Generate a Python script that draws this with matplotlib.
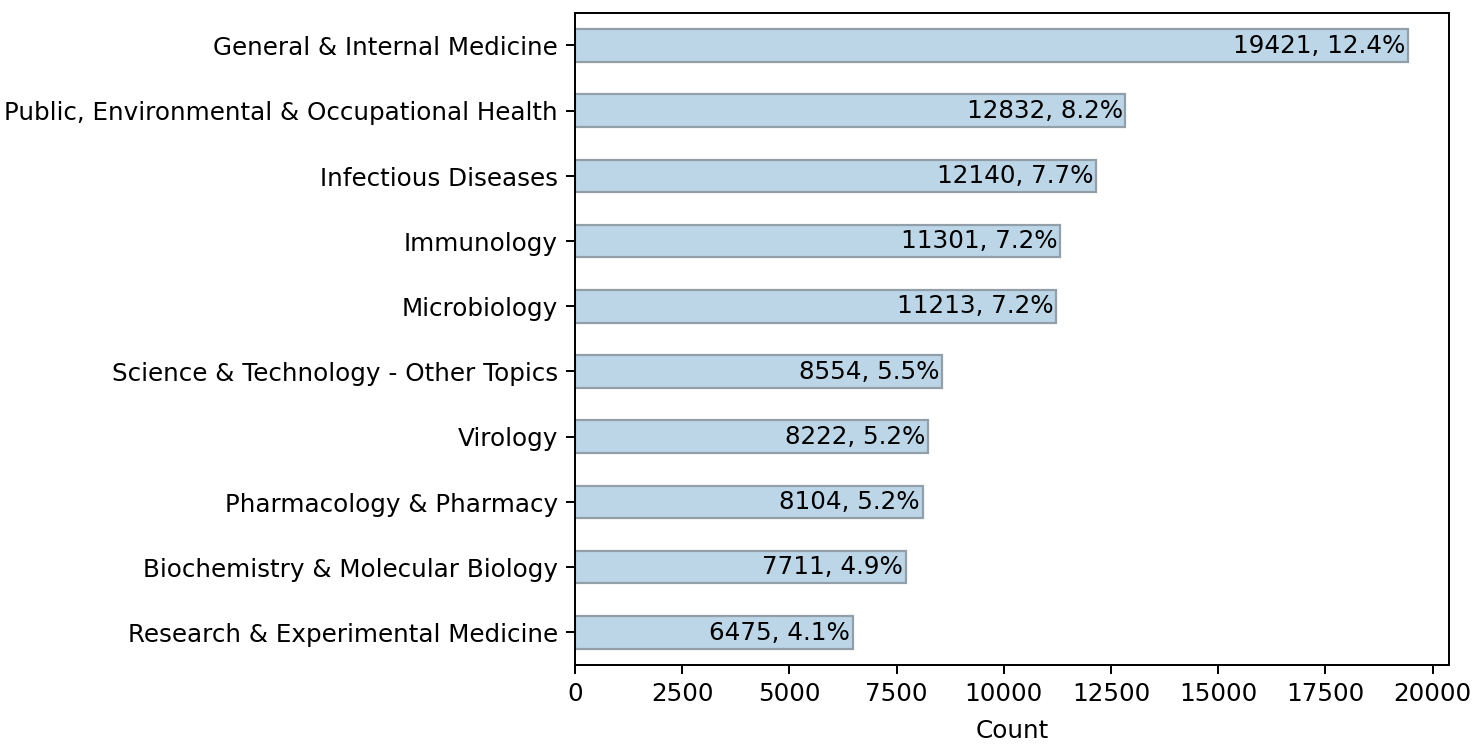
import matplotlib
matplotlib.use("Agg")
import matplotlib.pyplot as plt

categories = [
    "General & Internal Medicine",
    "Public, Environmental & Occupational Health",
    "Infectious Diseases",
    "Immunology",
    "Microbiology",
    "Science & Technology - Other Topics",
    "Virology",
    "Pharmacology & Pharmacy",
    "Biochemistry & Molecular Biology",
    "Research & Experimental Medicine",
]
counts = [19421, 12832, 12140, 11301, 11213, 8554, 8222, 8104, 7711, 6475]
percents = [12.4, 8.2, 7.7, 7.2, 7.2, 5.5, 5.2, 5.2, 4.9, 4.1]

DPI = 177
fig = plt.figure(figsize=(1482 / DPI, 746.2 / DPI), dpi=DPI)
ax = fig.add_axes([0.388, 0.1086, 0.59, 0.874])

n = len(categories)
ypos = list(range(n))[::-1]
ax.barh(ypos, counts, height=0.5, color="#bcd6e8", edgecolor="#929fa9", linewidth=0.9)
ax.set_ylim(-0.5, n - 0.5)
ax.set_yticks(ypos)
ax.set_yticklabels(categories)
ax.set_xticks([0, 2500, 5000, 7500, 10000, 12500, 15000, 17500, 20000])
ax.set_xlabel("Count", labelpad=5)

for y, c, p in zip(ypos, counts, percents):
    ax.annotate(f"{c}, {p}%", xy=(c, y), xytext=(-1, 0), textcoords="offset points",
                ha="right", va="center", fontsize=10)

fig.savefig("out.png", dpi=DPI)
